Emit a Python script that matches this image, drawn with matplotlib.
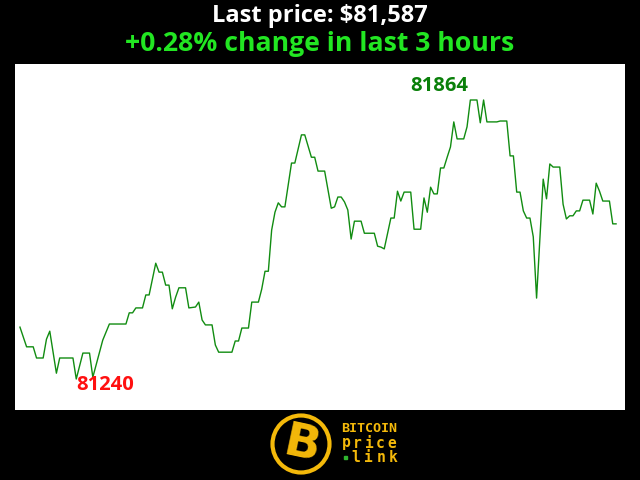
import matplotlib
matplotlib.use("Agg")
import matplotlib.pyplot as plt
from matplotlib.patches import Circle, Rectangle

# minutes since start of the 3 hour window, and BTC price at those minutes
minutes = [0, 2, 4, 5, 7, 8, 9, 11, 12, 16, 17, 19, 21, 22, 25, 27, 32, 33, 34, 35,
           37, 38, 39, 41, 42, 43, 44, 45, 46, 47, 48, 50, 51, 53, 54, 55, 56, 58, 59, 60,
           64, 65, 66, 67, 69, 70, 72, 73, 74, 75, 76, 77, 78, 79, 80, 81, 82, 83, 85, 86,
           88, 89, 90, 92, 93, 94, 95, 96, 97, 98, 99, 100, 101, 103, 104, 107, 108, 109, 110, 112,
           113, 114, 115, 116, 118, 119, 121, 122, 123, 124, 125, 126, 127, 128, 129, 130, 131, 132, 134, 135,
           136, 138, 139, 140, 141, 144, 145, 147, 148, 149, 150, 151, 152, 153, 154, 155, 156, 158, 159, 160,
           161, 163, 164, 165, 166, 167, 168, 169, 170, 172, 173, 174, 175, 176, 178, 179, 180]
prices = [81356, 81312, 81312, 81287, 81287, 81329, 81347, 81253, 81287, 81287, 81240, 81298, 81298, 81244, 81327, 81363, 81363, 81388, 81388, 81399,
          81399, 81428, 81428, 81499, 81479, 81479, 81450, 81450, 81397, 81423, 81444, 81444, 81399, 81401, 81412, 81372, 81361, 81361, 81316, 81300,
          81300, 81325, 81325, 81354, 81354, 81412, 81412, 81441, 81481, 81481, 81573, 81613, 81634, 81625, 81625, 81674, 81723, 81723, 81786, 81786,
          81736, 81736, 81705, 81705, 81663, 81622, 81625, 81647, 81647, 81636, 81618, 81553, 81593, 81593, 81566, 81566, 81537, 81535, 81531, 81600,
          81600, 81660, 81638, 81658, 81658, 81575, 81575, 81645, 81613, 81669, 81654, 81654, 81712, 81712, 81736, 81759, 81815, 81777, 81777, 81804,
          81864, 81864, 81813, 81864, 81815, 81815, 81817, 81817, 81739, 81739, 81658, 81658, 81616, 81600, 81600, 81558, 81421, 81687, 81643, 81721,
          81714, 81714, 81631, 81598, 81605, 81605, 81616, 81616, 81640, 81640, 81609, 81678, 81660, 81638, 81638, 81587, 81587]

last_price = "$81,587"
change_text = "+0.28% change in last 3 hours"

fig = plt.figure(figsize=(6.4, 4.8), dpi=100, facecolor="black")

fig.text(0.5, 0.966, "Last price: " + last_price, color="white", fontsize=17,
         fontweight="bold", family="Open Sans", ha="center", va="center")
fig.text(0.5, 0.909, change_text, color="#22e622", fontsize=19.2,
         fontweight="bold", family="Open Sans", ha="center", va="center")

ax = fig.add_axes([15 / 640, 70 / 480, 610 / 640, 346 / 480])
ax.set_facecolor("white")
ax.plot(minutes, prices, color="#118c11", linewidth=1)
ax.set_xlim(-1.5, 182.7)
ax.set_ylim(81170.7, 81944.5)
ax.set_xticks([])
ax.set_yticks([])
for s in ax.spines.values():
    s.set_visible(False)

# label the high and the low
i_max = prices.index(max(prices))
i_min = prices.index(min(prices))
ax.annotate(str(prices[i_max]), (minutes[i_max], prices[i_max]), xytext=(-2, 14),
            textcoords="offset pixels", ha="right", va="center", color="#0a800a",
            fontsize=14.5, fontweight="bold", family="Open Sans")
ax.annotate(str(prices[i_min]), (minutes[i_min], prices[i_min]), xytext=(0, -6),
            textcoords="offset pixels", ha="left", va="center", color="#ff1010",
            fontsize=14.5, fontweight="bold", family="Open Sans")

# logo at the bottom
lg = fig.add_axes([260 / 640, 0, 150 / 640, 70 / 480])
lg.set_xlim(260, 410)
lg.set_ylim(480, 410)
lg.set_aspect("equal")
lg.axis("off")
yellow = "#f4b90a"
lg.add_patch(Circle((301, 444), 28.5, facecolor="black", edgecolor=yellow, linewidth=3))
lg.text(302, 446, "B", color=yellow, fontsize=34, fontweight="heavy", family="DejaVu Sans",
        ha="center", va="center", rotation=-12)
lg.text(369, 429, "BITCOIN", color=yellow, fontsize=9.6, fontweight="bold",
        family="DejaVu Sans Mono", ha="center", va="center")
for k, ch in enumerate("price"):
    lg.text(346 + k * 11.5, 443, ch, color=yellow, fontsize=10.5, fontweight="bold",
            family="DejaVu Sans Mono", ha="center", va="center")
lg.add_patch(Rectangle((344, 455.5), 3, 3, color="#2fb52f"))
for k, ch in enumerate("link"):
    lg.text(356 + k * 12.5, 457, ch, color=yellow, fontsize=10.5, fontweight="bold",
            family="DejaVu Sans Mono", ha="center", va="center")

fig.savefig("out.png", dpi=100, facecolor="black")
